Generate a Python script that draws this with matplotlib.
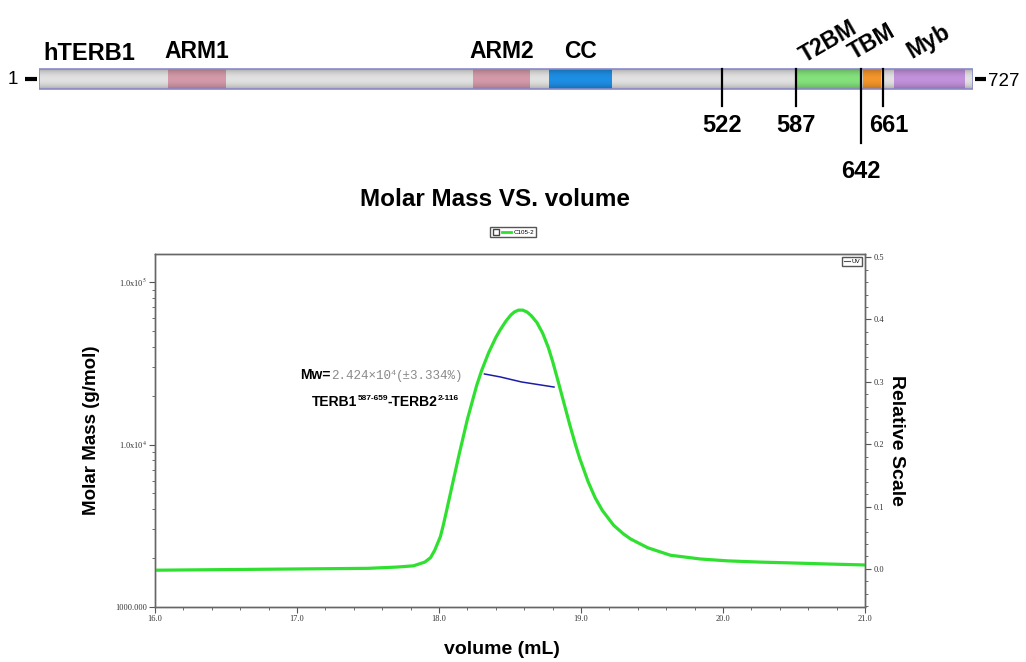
import numpy as np
import matplotlib.pyplot as plt
from matplotlib.colors import to_rgb
from matplotlib.lines import Line2D
from matplotlib.patches import Rectangle
from matplotlib.legend_handler import HandlerTuple
from matplotlib.ticker import MultipleLocator, LogLocator, NullFormatter

plt.rcParams["font.family"] = ["Liberation Sans", "DejaVu Sans"]
plt.rcParams["mathtext.fontset"] = "stix"

# --- hTERB1 domain diagram (schematic units, bar drawn 0..1000) ---
domain_names = ["ARM1", "ARM2", "CC", "T2BM", "TBM", "Myb"]
domain_start = [138, 465, 546, 812, 882, 915]
domain_end = [200, 525, 613, 879, 901, 990]
domain_colors = ["#d49aaa", "#d49aaa", "#1e8fe4", "#84e27c", "#f3962c", "#c292dc"]
domain_rot = [0, 0, 0, 30, 30, 30]
site_labels = ["522", "587", "642", "661"]
site_pos = [731, 810, 880, 904]
site_row = [0, 0, 1, 0]

# --- SEC-MALS trace ---
volume_uv = [16.0, 16.5, 17.0, 17.5, 17.7, 17.82, 17.9, 17.94, 17.97, 18.01,
             18.03, 18.05, 18.09, 18.14, 18.20, 18.265, 18.30, 18.35, 18.40, 18.43,
             18.47, 18.505, 18.53, 18.56, 18.59, 18.62, 18.65, 18.69, 18.73, 18.77,
             18.80, 18.84, 18.88, 18.92, 18.96, 18.99, 19.05, 19.10, 19.15, 19.23,
             19.30, 19.35, 19.47, 19.63, 19.84, 20.03, 20.26, 20.49, 20.73, 21.0]
uv_signal = [-0.002, -0.001, 0.0, 0.001, 0.003, 0.005, 0.011, 0.018, 0.030, 0.052,
             0.070, 0.090, 0.131, 0.182, 0.240, 0.294, 0.318, 0.347, 0.371, 0.383,
             0.397, 0.407, 0.412, 0.415, 0.415, 0.412, 0.406, 0.395, 0.378, 0.355,
             0.333, 0.300, 0.266, 0.232, 0.200, 0.178, 0.140, 0.114, 0.094, 0.070,
             0.056, 0.048, 0.034, 0.022, 0.016, 0.013, 0.011, 0.0096, 0.008, 0.0064]
volume_mm = [18.32, 18.43, 18.58, 18.81]
molar_mass = [27200, 26100, 24300, 22600]

x_ticks = [16.0, 17.0, 18.0, 19.0, 20.0, 21.0]
mass_ticks = [1000, 1e4, 1e5]
mass_tick_labels = ["1000.000", r"1.0x10$^{4}$", r"1.0x10$^{5}$"]
rel_ticks = [0.0, 0.1, 0.2, 0.3, 0.4, 0.5]

fig = plt.figure(figsize=(10.26, 6.62), dpi=100)


def strip(color, n=40):
    t = np.linspace(0, 1, n)
    s = 0.74 + 0.26 * np.sin(np.pi * t) ** 0.7
    rgb = np.clip(np.array(to_rgb(color))[None, :] * s[:, None], 0, 1)
    return rgb[:, None, :]


# domain bar
ax0 = fig.add_axes([39 / 1026, 1 - 190 / 662, 934 / 1026, 170 / 662])
ax0.imshow(strip("#e2e2e2"), extent=[0, 1000, 89, 69], aspect="auto", interpolation="bilinear")
for s, e, c in zip(domain_start, domain_end, domain_colors):
    ax0.imshow(strip(c), extent=[s, e, 89, 69], aspect="auto", interpolation="bilinear")
ax0.add_patch(Rectangle((0, 69), 1000, 20, fill=False, ec="#8a8ac8", lw=1.2))
ax0.plot([-15, -2], [79, 79], color="k", lw=3, solid_capstyle="butt", clip_on=False)
ax0.plot([1002, 1014], [79, 79], color="k", lw=3, solid_capstyle="butt", clip_on=False)
ax0.text(-28, 80, "1", ha="center", va="center", fontsize=13.5, clip_on=False)
ax0.text(1016, 81, "727", ha="left", va="center", fontsize=13.5, clip_on=False)
ax0.text(54, 53, "hTERB1", ha="center", va="center", fontsize=17, fontweight="bold")
for name, s, e, r in zip(domain_names, domain_start, domain_end, domain_rot):
    y = 52 if r == 0 else 42
    ax0.text((s + e) / 2, y, name, ha="center", va="center", rotation=r,
             rotation_mode="anchor", fontsize=16.5, fontweight="bold")
for lab, p, row in zip(site_labels, site_pos, site_row):
    ax0.plot([p, p], [69, 106 if row == 0 else 143], color="k", lw=1.6)
    ax0.text(p + (6 if lab == "661" else 0), 126 if row == 0 else 172, lab,
             ha="center", va="center", fontsize=17, fontweight="bold")
ax0.set_xlim(0, 1000)
ax0.set_ylim(190, 20)
ax0.axis("off")

# SEC-MALS plot
ax = fig.add_axes([155 / 1026, 1 - 607 / 662, 710 / 1026, 353 / 662])
ax2 = ax.twinx()
ax.plot(volume_mm, molar_mass, color="#1c1ca8", lw=1.1)
ax2.plot(volume_uv, uv_signal, color="#30e030", lw=2.3, solid_joinstyle="round")

ax.set_xlim(16, 21)
ax.set_yscale("log")
ax.set_ylim(1000, 1.49e5)
ax2.set_ylim(-0.061, 0.505)

tick_font = dict(fontsize=6, fontfamily="Liberation Serif", color="#333333")
ax.set_xticks(x_ticks, labels=[f"{v:.1f}" for v in x_ticks], **tick_font)
ax.set_yticks(mass_ticks, labels=mass_tick_labels, **tick_font)
ax.yaxis.set_minor_locator(LogLocator(base=10, subs=np.arange(2, 10)))
ax.yaxis.set_minor_formatter(NullFormatter())
ax.xaxis.set_minor_locator(MultipleLocator(0.2))
ax2.set_yticks(rel_ticks, labels=[f"{v:.1f}" for v in rel_ticks], **tick_font)
ax2.yaxis.set_minor_locator(MultipleLocator(0.02))

for a in (ax, ax2):
    a.tick_params(which="major", direction="out", length=4, width=0.8, color="#555555", pad=2)
    a.tick_params(which="minor", direction="out", length=2, width=0.6, color="#555555")
    for sp in a.spines.values():
        sp.set_color("#666666")
        sp.set_linewidth(1)
ax.tick_params(top=False, which="both")

# labels
fig.text(495 / 1026, 1 - 200 / 662, "Molar Mass VS. volume", ha="center", va="center",
         fontsize=17.5, fontweight="bold")
fig.text(502 / 1026, 1 - 650 / 662, "volume (mL)", ha="center", va="center",
         fontsize=14, fontweight="bold")
fig.text(92 / 1026, 1 - 430 / 662, "Molar Mass (g/mol)", ha="center", va="center",
         rotation=90, fontsize=13.5, fontweight="bold")
fig.text(896 / 1026, 1 - 440 / 662, "Relative Scale", ha="center", va="center",
         rotation=-90, fontsize=14, fontweight="bold")

# Mw annotation
t_mw = ax.text(0.205, 0.657, "Mw=", transform=ax.transAxes, ha="left", va="center",
               fontsize=10, fontweight="bold")
mono = dict(fontfamily="Liberation Mono", color="#8a8a8a")
t_a = ax.annotate("2.424×10", xy=(1, 0), xycoords=(t_mw, t_mw), va="bottom", ha="left",
                  fontsize=9, **mono)
t_b = ax.annotate("4", xy=(1, 0.45), xycoords=(t_a, t_a), va="bottom", ha="left",
                  fontsize=6, **mono)
ax.annotate("(±3.334%)", xy=(1, 0), xycoords=(t_b, t_a), va="bottom", ha="left",
            fontsize=9, **mono)

t1 = ax.text(0.221, 0.581, "TERB1", transform=ax.transAxes, ha="left", va="center",
             fontsize=10, fontweight="bold")
t2 = ax.annotate("587-659", xy=(1, 0.5), xycoords=(t1, t1), va="bottom", ha="left",
                 fontsize=6, fontweight="bold")
t3 = ax.annotate("-TERB2", xy=(1, 0), xycoords=(t2, t1), va="bottom", ha="left",
                 fontsize=10, fontweight="bold")
ax.annotate("2-116", xy=(1, 0.5), xycoords=(t3, t1), va="bottom", ha="left",
            fontsize=6, fontweight="bold")

# legends
box = Line2D([], [], marker="s", ms=4, mfc="white", mec="#444444", ls="none")
green = Line2D([], [], color="#30e030", lw=2)
fig.legend([(box, green)], ["C105-2"], loc="center", bbox_to_anchor=(513 / 1026, 1 - 232 / 662),
           handler_map={tuple: HandlerTuple(ndivide=None, pad=0.3)}, fontsize=4.5,
           handlelength=3, handletextpad=0.4, borderpad=0.4, fancybox=False,
           edgecolor="#555555", framealpha=1)
uv = Line2D([], [], color="#555555", lw=0.8)
ax2.legend([uv], ["UV"], loc="upper right", fontsize=4.5, handlelength=1, handletextpad=0.3,
           borderpad=0.3, borderaxespad=0.4, fancybox=False, edgecolor="#555555", framealpha=1)

fig.savefig("out.png", dpi=100)
